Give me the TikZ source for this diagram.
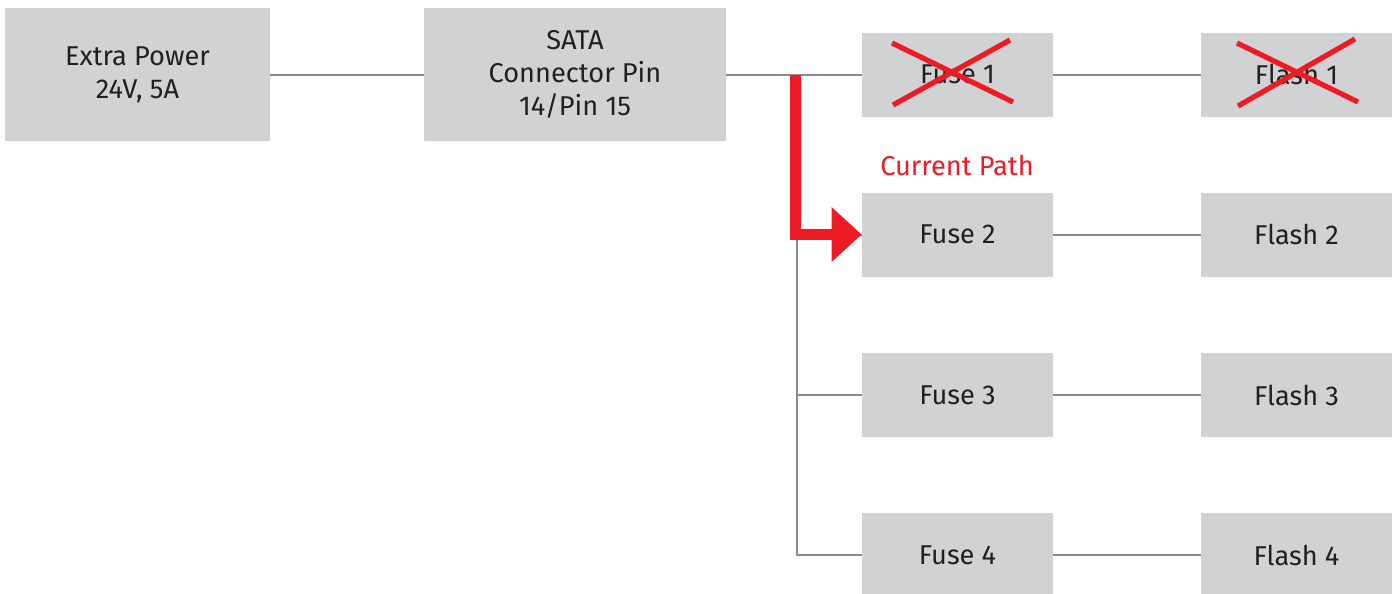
\documentclass[tikz,border=0pt]{standalone}
\usepackage{fontspec}
\setmainfont{Fira Sans}
\usetikzlibrary{arrows.meta}
\definecolor{boxgray}{HTML}{D1D2D4}
\definecolor{linegray}{HTML}{8C8C8E}
\definecolor{txt}{HTML}{231F20}
\definecolor{hired}{HTML}{ED1C24}
\tikzset{
  blk/.style={fill=boxgray, draw=none, text=txt, font=\fontsize{13.6}{16.5}\selectfont, align=center, inner sep=0pt},
  smallblk/.style={blk, minimum width=95.5pt, minimum height=42pt},
  bigblk/.style={blk, minimum height=66.5pt},
  wire/.style={draw=linegray, line width=1pt},
  cross/.style={draw=hired, line width=2.6pt},
  patharrow/.style={draw=hired, line width=5.5pt, line join=miter, -{Triangle[length=15pt,width=26.5pt]}}
}
\begin{document}
\begin{tikzpicture}[x=0.5pt,y=-0.5pt]
\useasboundingbox (0,0) rectangle (1397,594);
\node[bigblk, minimum width=132.5pt] (ep) at (137.5,74.5) {Extra Power\\24V, 5A};
\node[bigblk, minimum width=151pt] (sata) at (575,74.5) {SATA\\Connector Pin\\14/Pin 15};
\node[smallblk] (f1) at (957.5,74.5) {Fuse 1};
\node[smallblk] (f2) at (957.5,234.5) {Fuse 2};
\node[smallblk] (f3) at (957.5,395) {Fuse 3};
\node[smallblk] (f4) at (957.5,555) {Fuse 4};
\node[smallblk] (l1) at (1296.5,74.5) {Flash 1};
\node[smallblk] (l2) at (1296.5,234.5) {Flash 2};
\node[smallblk] (l3) at (1296.5,395) {Flash 3};
\node[smallblk] (l4) at (1296.5,555) {Flash 4};
\coordinate (bus) at (797,74.5);
\path[wire] (ep) -- (sata);
\path[wire] (sata) -- (f1);
\path[wire] (bus) |- (f4.west);
\path[wire] (bus |- f3) -- (f3.west);
\path[wire] (bus |- f2) -- (f2.west);
\path[wire] (f1) -- (l1);
\path[wire] (f2) -- (l2);
\path[wire] (f3) -- (l3);
\path[wire] (f4) -- (l4);
% crosses
\path[cross] (892,43) -- (1013,102);
\path[cross] (1010,40) -- (893,105);
\path[cross] (1237,43) -- (1358,102);
\path[cross] (1355,39) -- (1238,106);
% current path
\coordinate (arrstart) at (795.5,75);
\path[patharrow] (arrstart) |- (f2.west);
\node[text=hired, font=\fontsize{13.6}{16}\selectfont, inner sep=0pt] (cp) at (957,165) {Current Path};
\end{tikzpicture}
\end{document}
